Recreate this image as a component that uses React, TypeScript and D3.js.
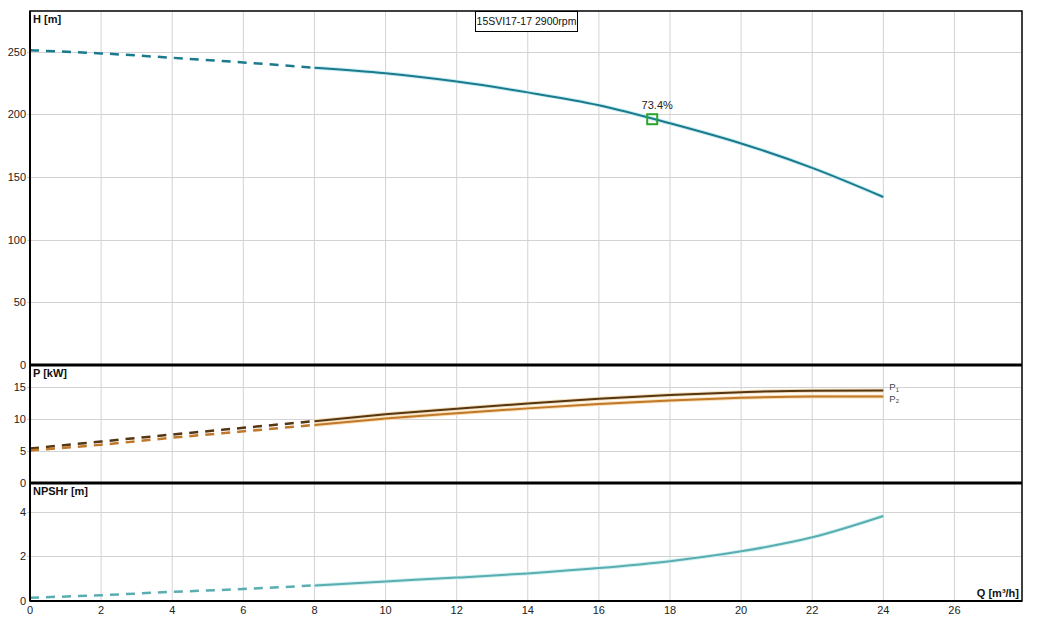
import React, { useEffect, useRef } from 'react';
import * as d3 from 'd3';

// flow points (m³/h) shared by every curve
const flow = [0, 2, 4, 6, 8, 10, 12, 14, 16, 18, 20, 22, 24];
const head = [251, 248.5, 245, 241.3, 237, 232.6, 226, 217.4, 207.2, 192.8, 176.7, 157.2, 134];
const powerP1 = [5.4, 6.5, 7.6, 8.65, 9.7, 10.77, 11.65, 12.47, 13.2, 13.8, 14.23, 14.48, 14.5];
const powerP2 = [5.1, 6.0, 7.1, 8.1, 9.1, 10.1, 10.93, 11.7, 12.37, 12.94, 13.35, 13.56, 13.57];
const npshr = [0.15, 0.26, 0.41, 0.54, 0.7, 0.88, 1.05, 1.24, 1.48, 1.79, 2.23, 2.86, 3.82];

const xTicks = [0, 2, 4, 6, 8, 10, 12, 14, 16, 18, 20, 22, 24, 26];
const hTicks = [0, 50, 100, 150, 200, 250];
const pTicks = [0, 5, 10, 15];
const nTicks = [0, 2, 4];

const dutyPoint = { q: 17.5, h: 196, label: '73.4%' };
const dashedUntil = 8;
const title = '15SVI17-17 2900rpm';

const W = 1042;
const H = 625;
const FONT = 'Arial, "Liberation Sans", sans-serif';

const App: React.FC = () => {
  const svgRef = useRef<SVGSVGElement>(null);

  useEffect(() => {
    if (!svgRef.current) return;
    const svg = d3.select(svgRef.current);
    svg.selectAll('*').remove();

    const left = 30;
    const right = 1022;
    const x = d3.scaleLinear().domain([0, 27.9]).range([left, right]);

    const panels = [
      { key: 'H', label: 'H [m]', top: 11, bottom: 365, max: 282.3, ticks: hTicks },
      { key: 'P', label: 'P [kW]', top: 365, bottom: 483, max: 18.5, ticks: pTicks },
      { key: 'N', label: 'NPSHr [m]', top: 483, bottom: 601, max: 5.3, ticks: nTicks },
    ];
    const yScales: Record<string, d3.ScaleLinear<number, number>> = {};

    svg.append('rect').attr('width', W).attr('height', H).attr('fill', '#fff');

    panels.forEach(p => {
      const y = d3.scaleLinear().domain([0, p.max]).range([p.bottom, p.top]);
      yScales[p.key] = y;
      const g = svg.append('g');

      // vertical grid
      g.selectAll('line.vx')
        .data(xTicks.filter(t => t > 0))
        .enter()
        .append('line')
        .attr('x1', d => x(d))
        .attr('x2', d => x(d))
        .attr('y1', p.top)
        .attr('y2', p.bottom)
        .attr('stroke', '#d3d3d3')
        .attr('stroke-width', 1);

      // horizontal grid
      g.selectAll('line.hy')
        .data(p.ticks.filter(t => t > 0))
        .enter()
        .append('line')
        .attr('x1', left - 3)
        .attr('x2', right)
        .attr('y1', d => Math.round(y(d)) + 0.5)
        .attr('y2', d => Math.round(y(d)) + 0.5)
        .attr('stroke', '#d3d3d3')
        .attr('stroke-width', 1);

      // tick labels
      g.selectAll('text.tk')
        .data(p.ticks)
        .enter()
        .append('text')
        .attr('x', left - 4)
        .attr('y', d => y(d) + 4)
        .attr('text-anchor', 'end')
        .attr('font-family', FONT)
        .attr('font-size', 11)
        .attr('fill', '#222')
        .text(d => d);

      g.append('text')
        .attr('x', left + 3)
        .attr('y', p.top + 12)
        .attr('font-family', FONT)
        .attr('font-size', 11)
        .attr('font-weight', 'bold')
        .attr('fill', '#111')
        .text(p.label);
    });

    const line = (ys: number[], y: d3.ScaleLinear<number, number>, from: number, to: number) => {
      const pts = flow.map((q, i) => [q, ys[i]] as [number, number]).filter(d => d[0] >= from && d[0] <= to);
      return d3.line<[number, number]>()
        .x(d => x(d[0]))
        .y(d => y(d[1]))
        .curve(d3.curveMonotoneX)(pts) as string;
    };

    const drawCurve = (ys: number[], key: string, color: string, halo: string, width: number) => {
      const y = yScales[key];
      const g = svg.append('g').attr('fill', 'none').attr('stroke-linecap', 'butt');
      g.append('path')
        .attr('d', line(ys, y, dashedUntil, 24))
        .attr('stroke', halo)
        .attr('stroke-width', width + 2);
      g.append('path')
        .attr('d', line(ys, y, dashedUntil, 24))
        .attr('stroke', color)
        .attr('stroke-width', width);
      g.append('path')
        .attr('d', line(ys, y, 0, dashedUntil))
        .attr('stroke', color)
        .attr('stroke-width', width + 0.5)
        .attr('stroke-dasharray', '9,7');
    };

    drawCurve(head, 'H', '#1c7a8d', '#c9eef4', 2);
    drawCurve(powerP1, 'P', '#553613', '#f3dcb8', 2);
    drawCurve(powerP2, 'P', '#c0782a', '#f8dfb5', 2);
    drawCurve(npshr, 'N', '#5aadb0', '#d2f1f2', 2);

    // duty point
    const yh = yScales['H'];
    svg.append('rect')
      .attr('x', x(dutyPoint.q) - 5)
      .attr('y', yh(dutyPoint.h) - 5)
      .attr('width', 10)
      .attr('height', 10)
      .attr('fill', 'none')
      .attr('stroke', '#2aa52a')
      .attr('stroke-width', 2);
    svg.append('text')
      .attr('x', x(dutyPoint.q) + 5)
      .attr('y', yh(dutyPoint.h) - 10)
      .attr('text-anchor', 'middle')
      .attr('font-family', FONT)
      .attr('font-size', 11)
      .attr('fill', '#222')
      .text(dutyPoint.label);

    // P1 / P2 labels
    const yp = yScales['P'];
    const lastI = flow.length - 1;
    [
      { y: yp(powerP1[lastI]) - 0.5, sub: '1' },
      { y: yp(powerP2[lastI]) + 5.5, sub: '2' },
    ].forEach(l => {
      const t = svg.append('text')
        .attr('x', x(24) + 6)
        .attr('y', l.y)
        .attr('font-family', FONT)
        .attr('font-size', 9.5)
        .attr('fill', '#444');
      t.append('tspan').text('P');
      t.append('tspan').attr('font-size', 6).attr('dy', 1.5).text(l.sub);
    });

    // x tick labels
    svg.selectAll('text.xt')
      .data(xTicks)
      .enter()
      .append('text')
      .attr('x', d => x(d))
      .attr('y', 614)
      .attr('text-anchor', 'middle')
      .attr('font-family', FONT)
      .attr('font-size', 11)
      .attr('fill', '#222')
      .text(d => d);

    svg.append('text')
      .attr('x', right - 3)
      .attr('y', 597)
      .attr('text-anchor', 'end')
      .attr('font-family', FONT)
      .attr('font-size', 11)
      .attr('font-weight', 'bold')
      .attr('fill', '#111')
      .text('Q [m³/h]');

    // frame and panel dividers
    svg.append('rect')
      .attr('x', left)
      .attr('y', 11)
      .attr('width', right - left)
      .attr('height', 601 - 11)
      .attr('fill', 'none')
      .attr('stroke', '#000')
      .attr('stroke-width', 1.5);
    [365, 483].forEach(yy => {
      svg.append('line')
        .attr('x1', left)
        .attr('x2', right)
        .attr('y1', yy)
        .attr('y2', yy)
        .attr('stroke', '#000')
        .attr('stroke-width', 3);
    });
    svg.append('line')
      .attr('x1', left).attr('x2', right).attr('y1', 601).attr('y2', 601)
      .attr('stroke', '#000').attr('stroke-width', 2);
    svg.append('line')
      .attr('x1', left).attr('x2', left).attr('y1', 11).attr('y2', 601)
      .attr('stroke', '#000').attr('stroke-width', 2);

    // title box
    const tb = svg.append('g');
    tb.append('rect')
      .attr('x', 475.5)
      .attr('y', 11.5)
      .attr('width', 102)
      .attr('height', 20)
      .attr('fill', '#fff')
      .attr('stroke', '#000')
      .attr('stroke-width', 1);
    tb.append('text')
      .attr('x', 526.5)
      .attr('y', 25)
      .attr('text-anchor', 'middle')
      .attr('font-family', FONT)
      .attr('font-size', 10.5)
      .attr('fill', '#111')
      .text(title);
  }, []);

  return (
    <svg
      ref={svgRef}
      width={W}
      height={H}
      style={{ position: 'absolute', left: 0, top: 0, display: 'block' }}
    />
  );
};

export default App;
